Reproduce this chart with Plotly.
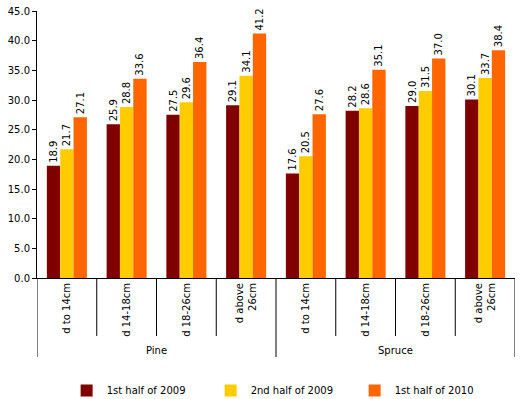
import plotly.graph_objects as go

groups = ["Pine", "Spruce"]
subcats = ["d to 14cm", "d 14-18cm", "d 18-26cm", "d above<br>26cm"]
tick_labels = subcats + subcats
series_names = ["1st half of 2009", "2nd half of 2009", "1st half of 2010"]
h1_2009 = [18.9, 25.9, 27.5, 29.1, 17.6, 28.2, 29.0, 30.1]
h2_2009 = [21.7, 28.8, 29.6, 34.1, 20.5, 28.6, 31.5, 33.7]
h1_2010 = [27.1, 33.6, 36.4, 41.2, 27.6, 35.1, 37.0, 38.4]
colors = ["#800000", "#FFCC00", "#FF6600"]

FONT = "DejaVu Sans"
xs = list(range(len(tick_labels)))

fig = go.Figure()
for name, vals, col in zip(series_names, [h1_2009, h2_2009, h1_2010], colors):
    fig.add_trace(go.Bar(
        x=xs, y=vals, name=name, marker=dict(color=col, line=dict(width=0)),
        text=[f"{v:.1f}" for v in vals], textposition="outside", textangle=-90,
        constraintext="none",
        textfont=dict(family=FONT, size=10, color="black"), cliponaxis=False,
    ))

shapes = []
n = len(tick_labels)
for i in range(n + 1):
    b = i - 0.5
    long_line = (i % 4 == 0)
    shapes.append(dict(type="line", xref="x", yref="paper", x0=b, x1=b,
                       y0=0, y1=-0.296 if long_line else -0.217,
                       line=dict(color="black", width=1)))

annotations = []
for gi, g in enumerate(groups):
    annotations.append(dict(x=gi * 4 + 1.5, y=-0.27, xref="x", yref="paper",
                            text=g, showarrow=False, yanchor="middle",
                            font=dict(family=FONT, size=10, color="black")))

fig.update_layout(
    width=520, height=399,
    margin=dict(l=37, r=5, t=11, b=121, autoexpand=False),
    paper_bgcolor="white", plot_bgcolor="white",
    barmode="group", bargap=0.33, bargroupgap=0,
    font=dict(family=FONT, size=10, color="black"),
    showlegend=True,
    legend=dict(orientation="h", x=0.062, xanchor="left", y=-0.367, yanchor="top",
                entrywidth=99, entrywidthmode="pixels",
                font=dict(family=FONT, size=10, color="black"),
                itemwidth=30, tracegroupgap=0),
    shapes=shapes, annotations=annotations,
)
fig.update_xaxes(
    range=[-0.5, n - 0.5], tickmode="array", tickvals=xs, ticktext=tick_labels,
    tickangle=-90, ticks="", showgrid=False, zeroline=False,
    showline=True, linecolor="black", linewidth=1,
    tickfont=dict(family=FONT, size=10, color="black"),
)
fig.update_yaxes(
    range=[0, 45], dtick=5, tickformat=".1f", showgrid=False, zeroline=False,
    showline=True, linecolor="black", linewidth=1, ticks="outside", ticklen=4,
    tickcolor="black", tickfont=dict(family=FONT, size=10, color="black"),
)

fig.write_html("out.html", config={"displayModeBar": False},
               post_script="document.body.style.margin='0';document.body.style.overflow='hidden';")
